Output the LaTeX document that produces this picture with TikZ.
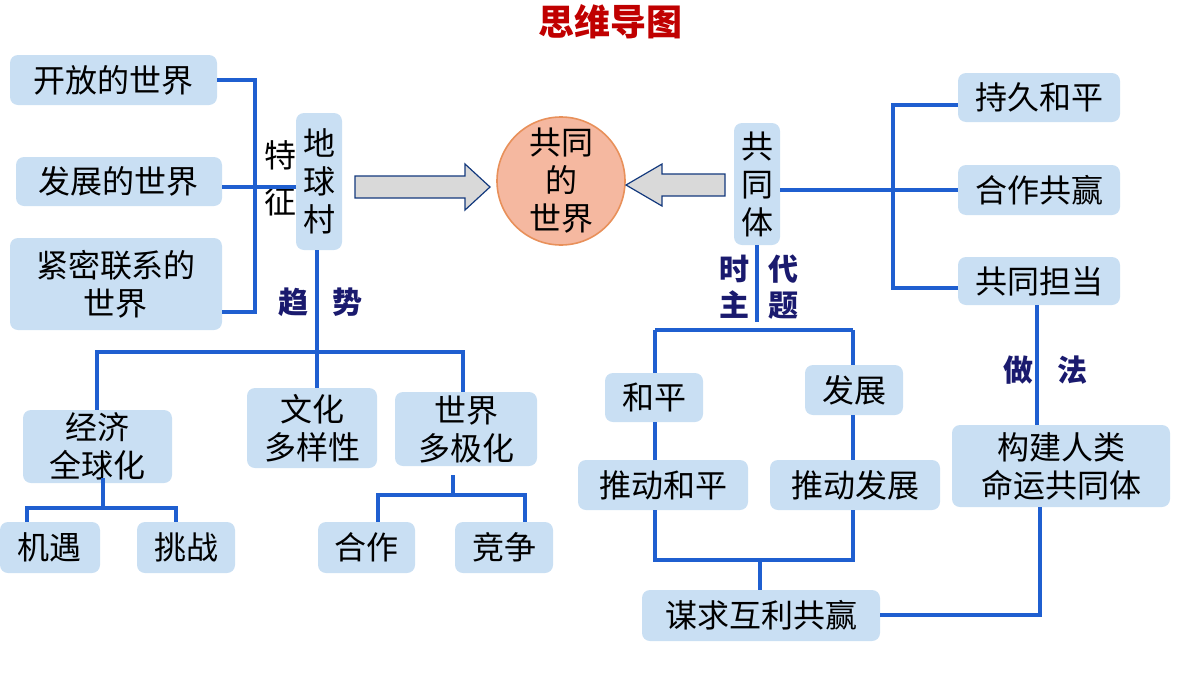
\documentclass[tikz,border=0pt]{standalone}
\usepackage{fontspec}
\setmainfont{Noto Sans CJK SC}
\definecolor{boxc}{HTML}{C9DFF3}
\definecolor{lnc}{HTML}{1F5FD0}
\definecolor{navy}{HTML}{1A1A6E}
\definecolor{ttl}{HTML}{C00000}
\definecolor{circ}{HTML}{F5B8A0}
\definecolor{circb}{HTML}{E8905A}
\tikzset{
 box/.style={fill=boxc,draw=none,rounded corners=4pt,inner sep=1pt,align=center,font=\fontsize{16}{19}\selectfont},
 ln/.style={draw=lnc,line width=2.4pt},
 lab/.style={font=\fontsize{15}{18}\selectfont\bfseries,text=navy},
 bigarrow/.style={draw=lnc!60!black,fill=gray!30,line width=0.6pt}
}
\newcommand\bx[6]{\node[box,minimum width={(#4-#2)*0.5pt},minimum height={(#5-#3)*0.5pt}] (#1) at ({(#2+#4)/2},{(#3+#5)/2}) {#6};}
\begin{document}
\begin{tikzpicture}[x=0.5pt,y=-0.5pt]
\useasboundingbox (0,0) rectangle (1200,675);
\node[font=\fontsize{18}{20}\selectfont\bfseries,text=ttl] (title) at (610,22) {思维导图};
% left
\bx{a1}{10}{55}{217}{105}{开放的世界}
\bx{a2}{16}{157}{222}{206}{发展的世界}
\bx{a3}{10}{238}{222}{330}{紧密联系的\\世界}
\bx{dq}{296}{113}{342}{250}{地\\球\\村}
\node[font=\fontsize{16}{19}\selectfont,align=center] (tz) at (280,178) {特\\[4pt]征};
\coordinate (L1) at (255,80); \coordinate (L3) at (255,312); \coordinate (L2) at (255,187);
\draw[ln] (a1.east|-L1) -- (L1) -- (L3) -- (a3.east|-L3);
\draw[ln] (a2.east|-L2) -- (L2) -- (dq.west|-L2);
\node[lab] (qs) at (320,302) {趋\hspace{12pt}势};
% center
\node[circle,fill=circ,draw=circb,line width=0.8pt,minimum size=64pt,align=center,inner sep=0pt,font=\fontsize{16}{19}\selectfont] (gw) at (561,181) {共同\\的\\世界};
\draw[bigarrow] (355,176) -- (465,176) -- (465,164) -- (490,187) -- (465,210) -- (465,198) -- (355,198) -- cycle;
\draw[bigarrow] (725,174) -- (662,174) -- (662,164) -- (626,185) -- (662,206) -- (662,196) -- (725,196) -- cycle;
% bottom left
\bx{b1}{23}{410}{172}{483}{经济\\全球化}
\bx{b2}{247}{388}{377}{468}{文化\\多样性}
\bx{b3}{395}{392}{537}{466}{世界\\多极化}
\coordinate (T) at (317,352);
\draw[ln] (dq.south-|T) -- (T);
\draw[ln] (b1.north-|97,0) -- (97,352) -- (463,352) -- (b3.north-|463,0);
\draw[ln] (T) -- (b2.north-|T);
\bx{c1}{0}{522}{100}{573}{机遇}
\bx{c2}{137}{522}{235}{573}{挑战}
\bx{c3}{318}{522}{415}{573}{合作}
\bx{c4}{455}{522}{553}{573}{竞争}
\draw[draw=lnc,line width=1.8pt] (103,478) -- (103,508);
\draw[draw=lnc,line width=1.8pt] (c1.north-|27,0) -- (27,508) -- (176,508) -- (c2.north-|176,0);
\draw[draw=lnc,line width=1.8pt] (453,475) -- (453,495);
\draw[draw=lnc,line width=1.8pt] (c3.north-|378,0) -- (378,495) -- (525,495) -- (c4.north-|525,0);
% right
\bx{gt}{734}{123}{780}{245}{共\\同\\体}
\bx{r1}{958}{73}{1120}{122}{持久和平}
\bx{r2}{958}{165}{1120}{215}{合作共赢}
\bx{r3}{958}{257}{1120}{305}{共同担当}
\draw[ln] (r1.west|-893,105) -- (893,105) -- (893,288) -- (r3.west|-893,288);
\draw[ln] (gt.east|-893,190) -- (r2.west|-893,190);
\node[lab,align=center] (sd) at (759,287) {时\hspace{10pt}代\\主\hspace{10pt}题};
\draw[ln] (gt.south) -- (757,322);
\bx{h1}{605}{373}{703}{422}{和平}
\bx{h2}{805}{365}{903}{415}{发展}
\bx{h3}{578}{460}{748}{510}{推动和平}
\bx{h4}{770}{460}{940}{510}{推动发展}
\bx{h5}{642}{590}{880}{641}{谋求互利共赢}
\draw[ln] (655,330) -- (853,330);
\draw[ln] (655,330) -- (h1.north-|655,0);
\draw[ln] (h1.south-|655,0) -- (h3.north-|655,0);
\draw[ln] (h3.south-|655,0) -- (655,560) -- (853,560) -- (h4.south-|853,0);
\draw[ln] (853,330) -- (h2.north-|853,0);
\draw[ln] (h2.south-|853,0) -- (h4.north-|853,0);
\draw[ln] (760,560) -- (h5.north-|760,0);
\node[lab] (zf) at (1045,370) {做\hspace{12pt}法};
\bx{gj}{952}{425}{1170}{507}{构建人类\\命运共同体}
\draw[ln] (r3.south-|1037,0) -- (gj.north-|1037,0);
\draw[ln] (gj.south-|1040,0) -- (1040,615) -- (h5.east|-0,615);
\end{tikzpicture}
\end{document}
